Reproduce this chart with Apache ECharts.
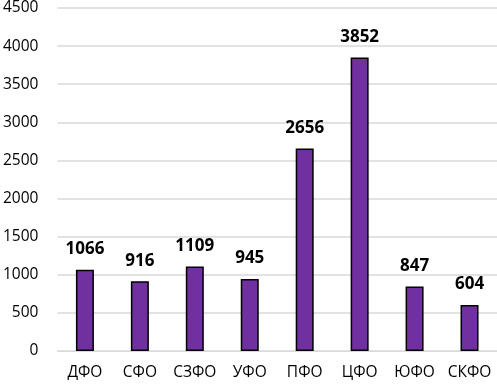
<!DOCTYPE html>
<html>
<head>
<meta charset="utf-8">
<script src="https://cdn.jsdelivr.net/npm/echarts@6/dist/echarts.min.js"></script>
<style>
    html, body { margin: 0; padding: 0; background: #fff; }
    #chart1 { width: 497px; height: 384px; }
</style>
</head>
<body>
<div id="chart1"></div>
<script>
// округа и значения
const categories = ['ДФО', 'СФО', 'СЗФО', 'УФО', 'ПФО', 'ЦФО', 'ЮФО', 'СКФО']
const values = [1066, 916, 1109, 945, 2656, 3852, 847, 604]
const yTicks = [0, 500, 1000, 1500, 2000, 2500, 3000, 3500, 4000, 4500]

const chart1 = echarts.init(document.getElementById('chart1'))
const fontFamily = 'Open Sans, Noto Sans, sans-serif'

let option = {
    animation: false,
    grid: {
        left: 55,
        top: 5.5,
        width: 448,
        bottom: 33,
        containLabel: false
    },
    xAxis: [
        {
            type: 'category',
            data: categories,
            axisLine: {
                lineStyle: { color: '#d9d9d9', width: 1 }
            },
            axisTick: { show: false },
            axisLabel: {
                color: '#000',
                fontSize: 15.5,
                fontFamily: fontFamily,
                margin: 14,
                interval: 0
            }
        }
    ],
    yAxis: [
        {
            type: 'value',
            min: yTicks[0],
            max: yTicks[yTicks.length - 1],
            interval: 500,
            axisLine: { show: false },
            axisTick: { show: false },
            axisLabel: {
                color: '#000',
                fontSize: 15.5,
                fontFamily: fontFamily,
                margin: 19,
                formatter: (v) => String(v) // без разделителя тысяч
            },
            splitLine: {
                lineStyle: { color: '#d9d9d9', width: 1.5 }
            }
        }
    ],
    series: [
        {
            name: 'value',
            type: 'bar',
            data: values,
            barWidth: 18,
            itemStyle: {
                color: '#7030a0',
                borderColor: '#000',
                borderWidth: 1.5
            },
            label: {
                show: true,
                position: 'top',
                distance: 12,
                color: '#000',
                fontSize: 17,
                fontWeight: 'bold',
                fontFamily: fontFamily
            }
        }
    ]
}
chart1.setOption(option)
</script>
</body>
</html>
